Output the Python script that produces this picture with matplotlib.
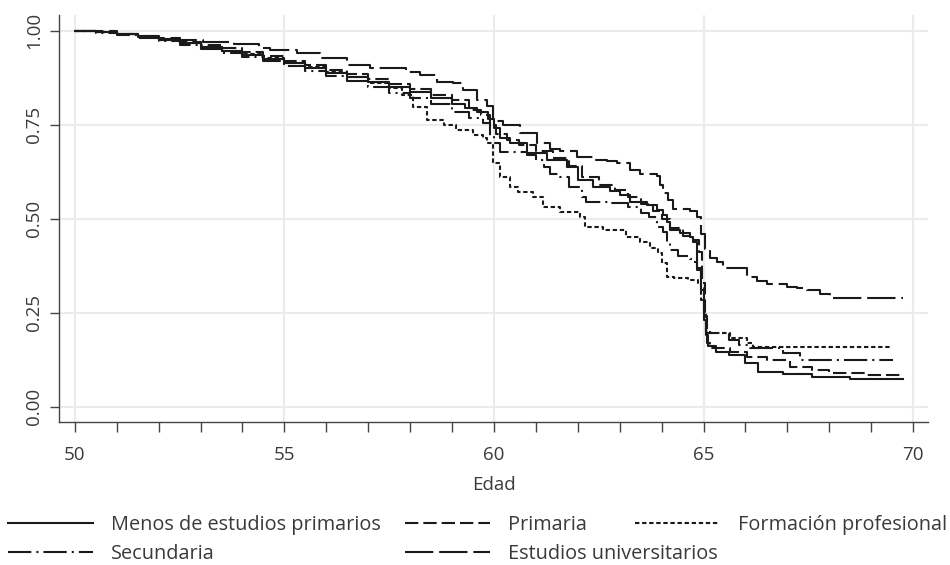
import matplotlib
matplotlib.use('Agg')
import matplotlib.pyplot as plt
from matplotlib.ticker import MultipleLocator

plt.rcParams['font.family'] = ['Open Sans', 'DejaVu Sans']

# Kaplan-Meier curves (age, survival)
menos_age = [50, 50.5, 51, 51.5, 52, 52.5, 53, 53.5, 54, 54.5, 55, 55.5, 56, 56.5, 57, 57.5, 58, 58.5, 59,
             59.3, 59.6, 59.85, 60.0, 60.15, 60.38, 60.79, 61.26, 61.74, 62.0,
             62.36, 62.77, 63.0, 63.25, 63.65, 63.89, 64.03, 64.13, 64.2, 64.44,
             64.68, 64.75, 64.85, 64.93, 65.0, 65.06, 65.1, 65.3, 65.6, 66.0,
             66.3, 66.9, 67.6, 68.5, 69.76]
menos_surv = [1.0, 0.996, 0.99, 0.984, 0.975, 0.966, 0.956, 0.946, 0.936, 0.925, 0.913, 0.901, 0.888, 0.876, 0.864, 0.851, 0.837, 0.822, 0.806,
              0.795, 0.783, 0.765, 0.74, 0.715, 0.70, 0.674, 0.655, 0.637, 0.602,
              0.583, 0.573, 0.562, 0.544, 0.536, 0.522, 0.509, 0.49, 0.469, 0.461,
              0.45, 0.437, 0.37, 0.31, 0.23, 0.19, 0.16, 0.145, 0.137, 0.115,
              0.092, 0.087, 0.078, 0.073, 0.073]

prim_age = [50, 50.5, 51, 51.5, 52, 52.5, 53, 53.5, 54, 54.5, 55, 55.5, 56, 56.5, 57, 57.5, 58, 58.5, 59,
            59.4, 59.7, 59.9, 60.05, 60.3, 60.6, 61.0, 61.4, 61.8, 62.1,
            62.5, 62.9, 63.2, 63.5, 63.8, 64.0, 64.2, 64.5, 64.75, 64.9,
            64.97, 65.03, 65.08, 65.16, 65.63, 66.04, 66.52, 67.06, 67.6, 68.0,
            68.9, 69.76]
prim_surv = [1.0, 0.997, 0.992, 0.986, 0.979, 0.971, 0.962, 0.953, 0.943, 0.932, 0.92, 0.908, 0.896, 0.884, 0.872, 0.858, 0.845, 0.83, 0.815,
             0.79, 0.775, 0.75, 0.725, 0.71, 0.695, 0.68, 0.662, 0.64, 0.61,
             0.59, 0.575, 0.557, 0.54, 0.52, 0.498, 0.475, 0.455, 0.443, 0.41,
             0.33, 0.24, 0.17, 0.155, 0.145, 0.132, 0.124, 0.105, 0.097, 0.089,
             0.084, 0.084]

fp_age = [50, 50.5, 51, 51.5, 52, 52.5, 53, 53.5, 54, 54.5, 55, 55.5, 56, 56.5, 57,
          57.5, 57.8, 58.07, 58.4, 58.8,
          59.1, 59.5, 59.74, 59.83, 59.98, 60.14, 60.38, 60.57, 60.93, 61.17,
          61.58, 62.05, 62.17, 62.6, 63.15, 63.48, 63.72, 63.92, 64.0, 64.13,
          64.3, 64.63, 64.87, 64.93, 65.0, 65.05, 65.16, 65.63, 66.04, 66.18,
          69.5]
fp_surv = [1.0, 0.996, 0.99, 0.983, 0.975, 0.966, 0.957, 0.947, 0.937, 0.926, 0.915, 0.903, 0.89, 0.876, 0.862,
           0.847, 0.83, 0.797, 0.762, 0.75,
           0.736, 0.722, 0.714, 0.70, 0.647, 0.61, 0.584, 0.571, 0.557, 0.53,
           0.517, 0.504, 0.477, 0.47, 0.452, 0.438, 0.422, 0.408, 0.382, 0.345,
           0.341, 0.336, 0.328, 0.283, 0.24, 0.20, 0.195, 0.182, 0.169, 0.158,
           0.158]

sec_age = [50, 50.5, 51, 51.5, 52, 52.5, 53, 53.5, 54, 54.5, 55, 55.5, 56, 56.5, 57, 57.5, 58, 58.5, 59,
           59.4, 59.75, 59.9, 60.0, 60.15, 60.79, 61.0, 61.2, 61.34, 61.58,
           61.8, 62.1, 62.2, 62.8, 63.2, 63.5, 63.7, 63.9, 64.03, 64.13,
           64.2, 64.4, 64.68, 64.75, 64.85, 64.93, 65.0, 65.05, 65.6, 65.85,
           66.1, 66.9, 67.3, 69.52]
sec_surv = [1.0, 0.995, 0.988, 0.981, 0.972, 0.962, 0.952, 0.941, 0.93, 0.918, 0.905, 0.893, 0.88, 0.865, 0.85, 0.835, 0.82, 0.805, 0.785,
            0.767, 0.755, 0.72, 0.70, 0.677, 0.669, 0.655, 0.637, 0.62, 0.61,
            0.584, 0.557, 0.544, 0.541, 0.53, 0.515, 0.504, 0.478, 0.464, 0.435,
            0.416, 0.40, 0.392, 0.385, 0.363, 0.32, 0.25, 0.195, 0.177, 0.164,
            0.155, 0.142, 0.125, 0.125]

univ_age = [50, 51, 51.5, 52, 52.5, 53.05, 53.8, 54.4, 54.65, 55.3,
            55.85, 56.5, 57.04, 57.9, 58.23, 58.64, 59.02, 59.26, 59.6, 59.83,
            59.98, 60.21, 60.62, 61.03, 61.34, 61.58, 61.98, 62.36, 62.70, 62.94,
            63.25, 63.48, 63.89, 63.96, 64.03, 64.15, 64.27, 64.68, 64.85, 64.93,
            65.04, 65.16, 65.32, 65.47, 66.04, 66.28, 66.52, 66.99, 67.23, 67.47,
            67.78, 68.02, 69.76]
univ_surv = [1.0, 0.99, 0.986, 0.981, 0.976, 0.969, 0.965, 0.955, 0.948, 0.94,
             0.927, 0.908, 0.90, 0.89, 0.882, 0.863, 0.86, 0.842, 0.815, 0.80,
             0.76, 0.75, 0.727, 0.70, 0.685, 0.68, 0.663, 0.655, 0.653, 0.647,
             0.63, 0.62, 0.613, 0.59, 0.567, 0.55, 0.525, 0.52, 0.505, 0.46,
             0.42, 0.395, 0.385, 0.368, 0.345, 0.333, 0.326, 0.318, 0.315, 0.31,
             0.299, 0.29, 0.29]

x_ticks = [50, 55, 60, 65, 70]
y_ticks = [0.0, 0.25, 0.5, 0.75, 1.0]
y_ticklabels = ['0.00', '0.25', '0.50', '0.75', '1.00']

ink = '#1a1a1a'
txt = '#3a3a3a'

fig = plt.figure(figsize=(9.5, 5.65), dpi=100)
ax = fig.add_axes([0.062, 0.253, 0.915, 0.72])

lw = 1.5
l1, = ax.plot(menos_age, menos_surv, drawstyle='steps-post', color=ink, lw=lw,
              label='Menos de estudios primarios')
l2, = ax.plot(prim_age, prim_surv, drawstyle='steps-post', color=ink, lw=lw,
              linestyle=(0, (6.4, 2.4)), label='Primaria')
l3, = ax.plot(fp_age, fp_surv, drawstyle='steps-post', color=ink, lw=lw,
              linestyle=(0, (2.1, 1.3)), label='Formación profesional')
l4, = ax.plot(sec_age, sec_surv, drawstyle='steps-post', color=ink, lw=lw,
              linestyle=(0, (11.2, 2.4, 1.0, 2.4)), label='Secundaria')
l5, = ax.plot(univ_age, univ_surv, drawstyle='steps-post', color=ink, lw=lw,
              linestyle=(0, (13.6, 2.8)), label='Estudios universitarios')

ax.set_xlim(49.62, 70.36)
ax.set_ylim(-0.041, 1.041)
ax.set_xticks(x_ticks)
ax.xaxis.set_minor_locator(MultipleLocator(1))
ax.set_yticks(y_ticks)
ax.set_yticklabels(y_ticklabels, rotation=90, va='center')

ax.grid(True, color='#ebebeb', lw=1.5, zorder=0)
ax.set_axisbelow(True)
for s in ['top', 'right']:
    ax.spines[s].set_visible(False)
for s in ['left', 'bottom']:
    ax.spines[s].set_color('#444444')
    ax.spines[s].set_linewidth(1.0)

ax.tick_params(axis='x', which='both', length=7, width=1, color='#444444',
               labelsize=13.5, labelcolor=txt, pad=10)
ax.tick_params(axis='y', length=6.5, width=1, color='#444444',
               labelsize=13.5, labelcolor=txt, pad=5)
ax.set_xlabel('Edad', fontsize=13.5, color=txt, labelpad=9)

leg_kw = dict(loc='upper left', frameon=False, fontsize=14.3, handlelength=4.3,
              handletextpad=0.9, borderpad=0, borderaxespad=0, labelspacing=0.45,
              labelcolor=txt)
fig.legend(handles=[l1, l4], bbox_to_anchor=(0.008, 0.088), **leg_kw)
fig.legend(handles=[l2, l5], bbox_to_anchor=(0.426, 0.088), **leg_kw)
fig.legend(handles=[l3], bbox_to_anchor=(0.668, 0.088), **leg_kw)

fig.savefig('out.png', dpi=100)
